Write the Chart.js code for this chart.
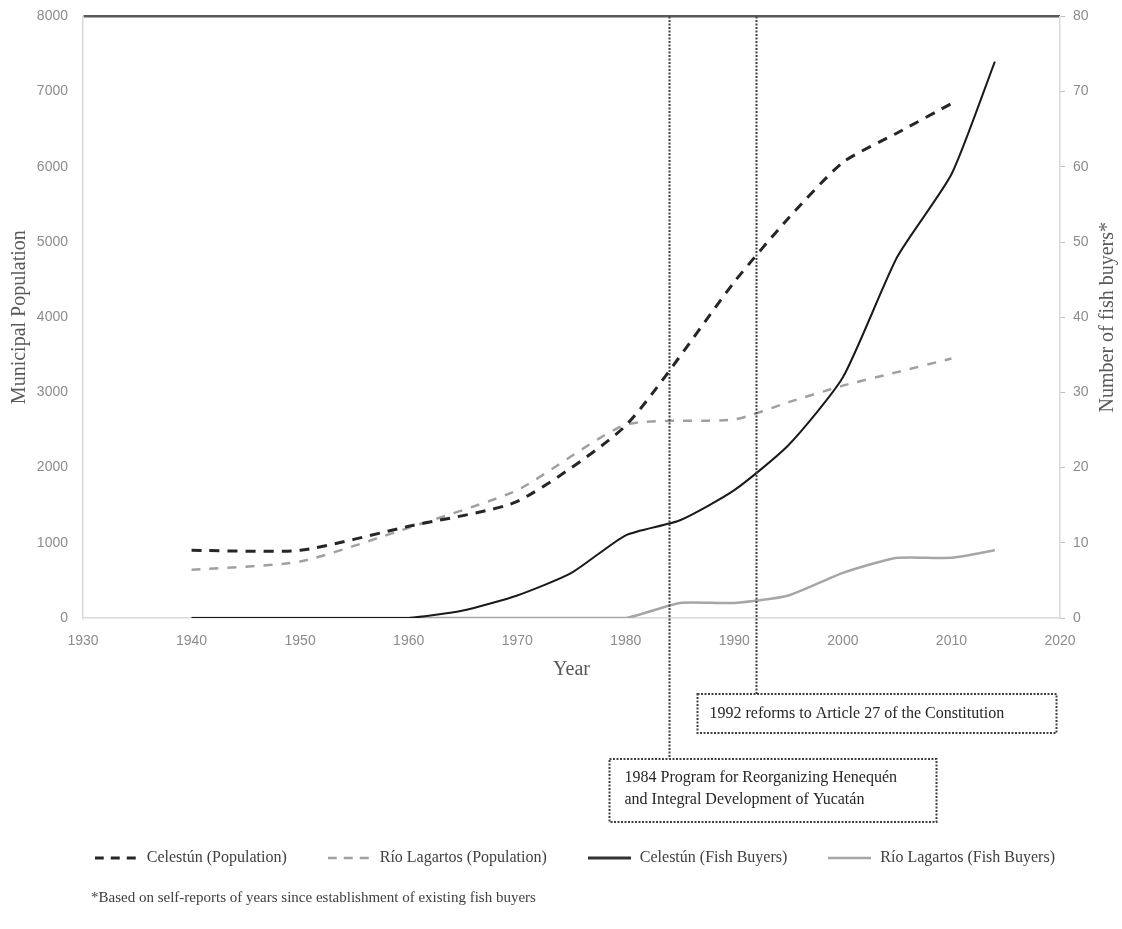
<!DOCTYPE html>
<html>
<head>
<meta charset="utf-8">
<title>Municipal population and fish buyers</title>
<script src="https://cdn.jsdelivr.net/npm/chart.js"></script>
<style>
  html, body { margin: 0; padding: 0; background: #fff; }
  #wrap { width: 1122px; height: 929px; }
</style>
</head>
<body>
<div id="wrap"><canvas id="fishChart" width="1122" height="929"></canvas></div>
<script>
// Census years and municipal population
const popYears = [1940, 1950, 1960, 1970, 1980, 1990, 1995, 2000, 2005, 2010];
const celestunPop = [900, 900, 1220, 1550, 2560, 4470, 5320, 6060, 6450, 6840];
const rioLagartosPop = [640, 750, 1200, 1700, 2570, 2640, 2870, 3090, 3270, 3450];

// Number of fish buyers (self-reported)
const buyerYears = [1940, 1945, 1950, 1955, 1960, 1965, 1970, 1975, 1980, 1985, 1990, 1995, 2000, 2005, 2010, 2014];
const celestunBuyers = [0, 0, 0, 0, 0, 1, 3, 6, 11, 13, 17, 23, 32, 48, 59, 74];
const rioLagartosBuyers = [0, 0, 0, 0, 0, 0, 0, 0, 0, 2, 2, 3, 6, 8, 8, 9];

const seriesLabels = ['Celestún (Population)', 'Río Lagartos (Population)', 'Celestún (Fish Buyers)', 'Río Lagartos (Fish Buyers)'];

// Axis ranges
const yearMin = 1930, yearMax = 2020, yearStep = 10;
const popMax = 8000, popStep = 1000;
const buyersMax = 80, buyersStep = 10;

// Policy annotations below the plot
const notes = [
  { year: 1992, lines: ['1992 reforms to Article 27 of the Constitution'], dx: -59, top: 76, w: 359, h: 39 },
  { year: 1984, lines: ['1984 Program for Reorganizing Henequén', 'and Integral Development of Yucatán'], dx: -60, top: 141, w: 327, h: 63 }
];
const footnote = '*Based on self-reports of years since establishment of existing fish buyers';

const toPoints = (xs, ys) => xs.map((x, i) => ({ x: x, y: ys[i] }));

const serif = '"Liberation Serif", "Times New Roman", serif';
const sans = '"Liberation Sans", Arial, sans-serif';

// small line sample used as the legend symbol (keeps the dash pattern)
function lineSample(color, width, dash) {
  const c = document.createElement('canvas');
  c.width = 43;
  c.height = 8;
  const g = c.getContext('2d');
  g.strokeStyle = color;
  g.lineWidth = width;
  g.setLineDash(dash);
  g.beginPath();
  g.moveTo(0, 4);
  g.lineTo(43, 4);
  g.stroke();
  return c;
}

// right axis title (reads bottom to top), policy markers and footnote
const notesPlugin = {
  id: 'notes',
  afterDraw(chart) {
    const { ctx, chartArea } = chart;
    const x = chart.scales.x;
    const midY = (chartArea.top + chartArea.bottom) / 2;

    ctx.save();
    ctx.fillStyle = '#595959';
    ctx.font = '20px ' + serif;
    ctx.textAlign = 'center';
    ctx.textBaseline = 'middle';
    ctx.translate(1108, midY);
    ctx.rotate(-Math.PI / 2);
    ctx.fillText('Number of fish buyers*', 0, 0);
    ctx.restore();

    notes.forEach(n => {
      const lx = Math.round(x.getPixelForValue(n.year)) + 0.5;
      const boxTop = chartArea.bottom + n.top;
      ctx.save();
      ctx.strokeStyle = '#404040';
      ctx.lineWidth = 2;
      ctx.setLineDash([2, 1.5]);
      ctx.beginPath();
      ctx.moveTo(lx, chartArea.top);
      ctx.lineTo(lx, boxTop);
      ctx.stroke();
      ctx.strokeRect(lx + n.dx, boxTop, n.w, n.h);
      ctx.setLineDash([]);
      ctx.fillStyle = '#262626';
      ctx.font = '16px ' + serif;
      ctx.textAlign = 'left';
      ctx.textBaseline = 'middle';
      const first = n.lines.length === 1 ? n.h / 2 : 19;
      n.lines.forEach((t, i) => {
        ctx.fillText(t, lx + n.dx + (n.lines.length === 1 ? 12 : 15), boxTop + first + i * 22);
      });
      ctx.restore();
    });

    ctx.save();
    ctx.fillStyle = '#404040';
    ctx.font = '15px ' + serif;
    ctx.textAlign = 'left';
    ctx.textBaseline = 'middle';
    ctx.fillText(footnote, 91, 898);
    ctx.restore();
  }
};

const ctx = document.getElementById('fishChart').getContext('2d');
const fishChart = new Chart(ctx, {
  type: 'line',
  data: {
    datasets: [
      {
        label: seriesLabels[0],
        data: toPoints(popYears, celestunPop),
        yAxisID: 'y',
        borderColor: '#262626',
        borderWidth: 3,
        borderDash: [10, 8],
        pointStyle: lineSample('#262626', 3, [9, 7]),
        pointRadius: 0,
        tension: 0.2
      },
      {
        label: seriesLabels[1],
        data: toPoints(popYears, rioLagartosPop),
        yAxisID: 'y',
        borderColor: '#a0a0a0',
        borderWidth: 2.5,
        borderDash: [9, 9],
        pointStyle: lineSample('#a0a0a0', 2.5, [9, 7]),
        pointRadius: 0,
        tension: 0.2
      },
      {
        label: seriesLabels[2],
        data: toPoints(buyerYears, celestunBuyers),
        yAxisID: 'y1',
        borderColor: '#1a1a1a',
        borderWidth: 2,
        pointStyle: lineSample('#333333', 3, []),
        pointRadius: 0,
        tension: 0.2
      },
      {
        label: seriesLabels[3],
        data: toPoints(buyerYears, rioLagartosBuyers),
        yAxisID: 'y1',
        borderColor: '#a6a6a6',
        borderWidth: 2.5,
        pointStyle: lineSample('#a6a6a6', 2.5, []),
        pointRadius: 0,
        tension: 0.2
      }
    ]
  },
  options: {
    responsive: false,
    animation: false,
    layout: { padding: { top: 8, left: 0, right: 27, bottom: 53 } },
    plugins: {
      tooltip: { enabled: false },
      legend: {
        position: 'bottom',
        align: 'end',
        labels: {
          usePointStyle: true,
          pointStyleWidth: 45,
          padding: 40,
          color: '#404040',
          font: { family: serif, size: 16 }
        }
      }
    },
    scales: {
      x: {
        type: 'linear',
        min: yearMin,
        max: yearMax,
        afterFit: s => { s.height = 192; },
        grid: { display: true, drawTicks: false, color: 'rgba(0,0,0,0)' },
        border: { color: '#d9d9d9', width: 1.5 },
        ticks: {
          stepSize: yearStep,
          padding: 15,
          color: '#8c8c8c',
          font: { family: sans, size: 14 },
          callback: v => String(v)
        },
        title: {
          display: true,
          text: 'Year',
          color: '#595959',
          font: { family: serif, size: 20 },
          padding: { top: 0, bottom: 128 }
        }
      },
      y: {
        position: 'left',
        min: 0,
        max: popMax,
        afterFit: s => { s.width = 83; },
        grid: {
          drawTicks: true,
          tickLength: 15,
          tickColor: 'rgba(0,0,0,0)',
          lineWidth: 2.5,
          color: c => (c.tick && c.tick.value === popMax ? '#595959' : 'rgba(0,0,0,0)')
        },
        border: { color: '#d9d9d9', width: 1.5 },
        ticks: {
          stepSize: popStep,
          padding: 0,
          color: '#8c8c8c',
          font: { family: sans, size: 14 },
          callback: v => String(v)
        },
        title: {
          display: true,
          text: 'Municipal Population',
          color: '#595959',
          font: { family: serif, size: 20 },
          padding: { top: 8, bottom: 0 }
        }
      },
      y1: {
        position: 'right',
        min: 0,
        max: buyersMax,
        afterFit: s => { s.width = 35; },
        grid: { drawOnChartArea: false, drawTicks: true, tickLength: 5, color: '#bfbfbf' },
        border: { color: '#d9d9d9', width: 1.5 },
        ticks: {
          stepSize: buyersStep,
          padding: 8,
          color: '#8c8c8c',
          font: { family: sans, size: 14 },
          callback: v => String(v)
        }
      }
    }
  },
  plugins: [notesPlugin]
});
</script>
</body>
</html>
